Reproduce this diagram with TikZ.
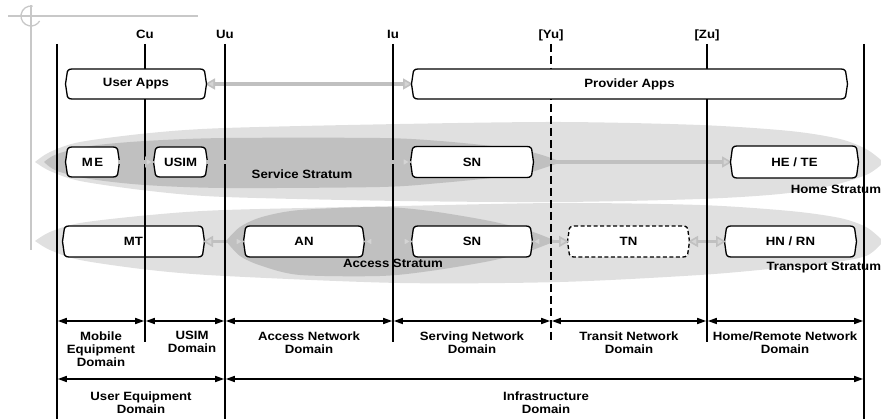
\documentclass[tikz,border=0pt]{standalone}
\usepackage{fontspec}
\setmainfont{Liberation Sans}[FakeStretch=1.1]
\usetikzlibrary{arrows.meta}

% Box outline: rounded corners, sides bowed slightly outwards at mid height
\newdimen\abL \newdimen\abR \newdimen\abT \newdimen\abB \newdimen\abM
\makeatletter
\pgfdeclareshape{appbox}{%
  \inheritsavedanchors[from=rectangle]%
  \inheritanchorborder[from=rectangle]%
  \inheritanchor[from=rectangle]{center}%
  \inheritanchor[from=rectangle]{mid}%
  \inheritanchor[from=rectangle]{base}%
  \inheritanchor[from=rectangle]{north}%
  \inheritanchor[from=rectangle]{south}%
  \inheritanchor[from=rectangle]{east}%
  \inheritanchor[from=rectangle]{west}%
  \inheritanchor[from=rectangle]{north east}%
  \inheritanchor[from=rectangle]{north west}%
  \inheritanchor[from=rectangle]{south east}%
  \inheritanchor[from=rectangle]{south west}%
  \backgroundpath{%
    \southwest \abL=\pgf@x \abB=\pgf@y
    \northeast \abR=\pgf@x \abT=\pgf@y
    \abM=.5\abB \advance\abM by .5\abT
    \pgfpathmoveto{\pgfpoint{\abL+5pt}{\abT}}%
    \pgfpathlineto{\pgfpoint{\abR-5pt}{\abT}}%
    \pgfpathquadraticcurveto{\pgfpoint{\abR}{\abT}}{\pgfpoint{\abR}{\abT-5pt}}%
    \pgfpathlineto{\pgfpoint{\abR+1.5pt}{\abM}}%
    \pgfpathlineto{\pgfpoint{\abR}{\abB+5pt}}%
    \pgfpathquadraticcurveto{\pgfpoint{\abR}{\abB}}{\pgfpoint{\abR-5pt}{\abB}}%
    \pgfpathlineto{\pgfpoint{\abL+5pt}{\abB}}%
    \pgfpathquadraticcurveto{\pgfpoint{\abL}{\abB}}{\pgfpoint{\abL}{\abB+5pt}}%
    \pgfpathlineto{\pgfpoint{\abL-1.5pt}{\abM}}%
    \pgfpathlineto{\pgfpoint{\abL}{\abT-5pt}}%
    \pgfpathquadraticcurveto{\pgfpoint{\abL}{\abT}}{\pgfpoint{\abL+5pt}{\abT}}%
    \pgfpathclose
  }%
}
\makeatother

\definecolor{stratlight}{RGB}{224,224,224}
\definecolor{stratdark}{RGB}{192,192,192}
\definecolor{conngray}{RGB}{192,192,192}
\definecolor{tipfill}{RGB}{212,212,212}
\definecolor{markgray}{RGB}{200,200,200}

\newcommand\lblfont{\fontsize{12}{13}\selectfont\bfseries}

\pgfdeclarelayer{strata}
\pgfdeclarelayer{lowbox}
\pgfdeclarelayer{conn}
\pgfdeclarelayer{lines}
\pgfsetlayers{strata,lowbox,conn,lines,main}

\tikzset{
  gtip/.tip={Triangle[length=10pt,width=11pt,line width=1.6pt,fill=tipfill,color=conngray]},
  domtip/.tip={Triangle[length=9pt,width=6pt]},
  vline/.style={line width=1.4pt},
  vdash/.style={vline, dash pattern=on 8pt off 4pt},
  box/.style={shape=appbox, draw=black, line width=1.3pt, fill=white},
  dashbox/.style={box, dash pattern=on 4pt off 2.5pt},
  gconn/.style={draw=conngray, line width=3.5pt},
  dom/.style={line width=1.5pt, domtip-domtip, shorten <=0.8pt, shorten >=0.8pt},
  regmark/.style={draw=markgray, line width=1.3pt},
}

\begin{document}
\begin{tikzpicture}[x=1pt,y=-1pt,
  every node/.style={font=\lblfont, inner sep=0pt, outer sep=0pt}]
\useasboundingbox (0,0) rectangle (881,419);

% ---- crop mark ----
\draw[regmark] (8,16) -- (198,16);
\draw[regmark] (31,5) -- (31,250);
\draw[regmark] (32.7,6.15) arc[start angle=80, end angle=330, radius=10pt];

% ---- strata ----
\begin{pgfonlayer}{strata}
  % service / home stratum
  \fill[stratlight] plot[smooth] coordinates {(35,162) (50,152) (80,142) (150,133) (225,128) (400,124) (560,122) (700,125) (790,131) (840,139) (866,149) (881,160)}
    -- plot[smooth] coordinates {(881,165) (866,175) (830,186) (780,194) (700,199) (560,202) (400,201) (225,197) (150,191) (80,181) (50,171) (35,162)} -- cycle;
  \fill[stratdark] plot[smooth] coordinates {(44,162) (57,154) (90,146) (145,141) (225,138) (380,138) (440,141) (500,147) (535,153) (562,162)}
    -- plot[smooth] coordinates {(535,171) (500,177) (440,183) (380,187) (225,188) (145,185) (90,179) (57,171) (44,162)} -- cycle;
  % access / transport stratum
  \fill[stratlight] plot[smooth] coordinates {(35,241) (50,232) (80,223) (150,215) (225,210) (400,206) (560,203) (700,205) (790,211) (840,218) (866,227) (881,239)}
    -- plot[smooth] coordinates {(881,244) (866,256) (830,263) (780,268) (700,275) (560,282) (400,283) (225,276) (150,270) (80,260) (50,250) (35,241)} -- cycle;
  \fill[stratdark] plot[smooth] coordinates {(226,241) (240,227) (262,217) (300,210) (380,207) (430,211) (490,221) (530,231) (556,241)}
    -- plot[smooth] coordinates {(530,251) (490,261) (430,271) (380,276) (300,275) (262,266) (240,256) (226,241)} -- cycle;
\end{pgfonlayer}

% ---- access row boxes and stratum labels (below the interface lines) ----
\begin{pgfonlayer}{lowbox}
  \node[box, minimum width=139pt, minimum height=31pt] (mt)   at (133.5,241.5) {MT};
  \node[box, minimum width=118pt, minimum height=31pt] (an)   at (304,241.5)   {AN};
  \node[box, minimum width=118pt, minimum height=31pt] (sn2)  at (472,241.5)   {SN};
  \node[dashbox, minimum width=119pt, minimum height=31pt] (tn) at (628.5,241.5) {TN};
  \node[box, minimum width=129pt, minimum height=31pt] (hnrn) at (790.5,241.5) {HN / RN};
  \node (svcstr) at (302,174) {Service Stratum};
  \node (accstr) at (393,263) {Access Stratum};
  \node[anchor=east] (homestr) at (881,189) {Home Stratum};
  \node[anchor=east] (trnstr)  at (881,268) {Transport Stratum};
\end{pgfonlayer}

% ---- application and service boxes ----
\node[box, minimum width=138pt, minimum height=30pt] (uapps) at (136,84)    {User Apps};
\node[box, minimum width=433pt, minimum height=30pt] (papps) at (629.5,84)  {Provider Apps};
\node[box, minimum width=51pt,  minimum height=30pt] (me)    at (92.5,162)  {M\kern1.5pt E};
\node[box, minimum width=51pt,  minimum height=30pt] (usim)  at (180.5,162) {USIM};
\node[box, minimum width=120pt, minimum height=31pt] (sn1)   at (472,162)   {SN};
\node[box, minimum width=125pt, minimum height=32pt] (hete)  at (794.5,162) {HE / TE};

% ---- interface labels and lines ----
\node[anchor=base] (lcu) at (145,38.5) {Cu};
\node[anchor=base] (luu) at (225,38.5) {Uu};
\node[anchor=base] (liu) at (393,38.5) {Iu};
\node[anchor=base] (lyu) at (551,38.5) {[Yu]};
\node[anchor=base] (lzu) at (707,38.5) {[Zu]};

\coordinate (tL)  at (57,44);   \coordinate (bL)  at (57,419);
\coordinate (tCu) at (145,44);  \coordinate (bCu) at (145,342);
\coordinate (tUu) at (225,44);  \coordinate (bUu) at (225,419);
\coordinate (tIu) at (393,44);  \coordinate (bIu) at (393,342);
\coordinate (tYu) at (551,44);  \coordinate (bYu) at (551,342);
\coordinate (tZu) at (707,44);  \coordinate (bZu) at (707,342);
\coordinate (tR)  at (864,44);  \coordinate (bR)  at (864,419);

\begin{pgfonlayer}{lines}
  \draw[vline] (tL) -- (bL);
  \draw[vline] (tCu) -- (bCu);
  \draw[vline] (tUu) -- (bUu);
  \draw[vline] (tIu) -- (bIu);
  \draw[vdash] (tYu) -- (bYu);
  \draw[vline] (tZu) -- (bZu);
  \draw[vline] (tR) -- (bR);
\end{pgfonlayer}

% ---- grey connectors ----
\begin{pgfonlayer}{conn}
  \draw[gconn, gtip-gtip] (uapps.east) -- (papps.west);
  \draw[gconn, -gtip] (sn1.east) -- (hete.west);
  \draw[gconn, gtip-gtip] (mt.east) -- (an.west);
  \draw[gconn, gtip-gtip] (an.east) -- (sn2.west);
  \draw[gconn, gtip-gtip] (sn2.east) -- (tn.west);
  \draw[gconn, gtip-gtip] (tn.east) -- (hnrn.west);
\end{pgfonlayer}
\draw[gconn, -gtip] (me.east) -- (usim.west);
\draw[gconn, -gtip] (usim.east) -- (sn1.west);

% ---- domain spans ----
\coordinate (r1) at (0,321);
\coordinate (r2) at (0,379);
\draw[dom] (tL |- r1) -- (tCu |- r1);
\draw[dom] (tCu |- r1) -- (tUu |- r1);
\draw[dom] (tUu |- r1) -- (tIu |- r1);
\draw[dom] (tIu |- r1) -- (tYu |- r1);
\draw[dom] (tYu |- r1) -- (tZu |- r1);
\draw[dom] (tZu |- r1) -- (tR |- r1);
\draw[dom] (tL |- r2) -- (tUu |- r2);
\draw[dom] (tUu |- r2) -- (tR |- r2);

\node[align=center, anchor=north] (dme)   at (101,331.5) {Mobile\\Equipment\\Domain};
\node[align=center, anchor=north] (dusim) at (192,331.5) {USIM\\Domain};
\node[align=center, anchor=north] (dan)   at (309,331.5) {Access Network\\Domain};
\node[align=center, anchor=north] (dsn)   at (472,331.5) {Serving Network\\Domain};
\node[align=center, anchor=north] (dtn)   at (629,331.5) {Transit Network\\Domain};
\node[align=center, anchor=north] (dhn)   at (785,331.5) {Home/Remote Network\\Domain};
\node[align=center, anchor=north] (due)   at (141,391.5) {User Equipment\\Domain};
\node[align=center, anchor=north] (dinf)  at (546,391.5) {Infrastructure\\Domain};
\end{tikzpicture}
\end{document}
